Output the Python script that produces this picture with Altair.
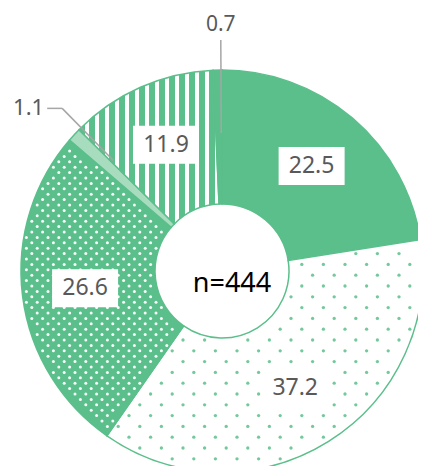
import math
import numpy as np
import pandas as pd
import altair as alt

# ---- data ----
categories = ["s1", "s2", "s3", "s4", "s5", "s6"]
values = [22.5, 37.2, 26.6, 1.1, 11.9, 0.7]
value_labels = ["22.5", "37.2", "26.6", "1.1", "11.9", "0.7"]
center_label = ["n=444"]

# ---- style ----
GREEN = "#5bbf8b"
LIGHT = "#a8dcbf"
TEXT = "#595959"
LEADER = "#a6a6a6"
FONT = "Noto Sans"
W, H = 410, 458
CX, CY = 214, 263
R_OUT, R_IN = 201, 67
R_LAB = 138

total = sum(values)
ends = np.cumsum(values) / total * 100
starts = ends - np.array(values) / total * 100
df = pd.DataFrame({"cat": categories, "value": values, "label": value_labels,
                   "start": starts, "end": ends})
df["mid_deg"] = (df["start"] + df["end"]) / 2 * 3.6

theta_scale = alt.Scale(domain=[0, 100], range=[0, 2 * math.pi])


def arc_layer(i, fill):
    return alt.Chart(df.iloc[[i]]).mark_arc(
        radius=R_OUT, innerRadius=R_IN, fill=fill, stroke=GREEN, strokeWidth=1.5
    ).encode(
        theta=alt.Theta("start:Q", scale=theta_scale),
        theta2="end:Q",
        x=alt.value(CX), y=alt.value(CY),
    )


# vertical stripes for slice 5 via a sharp-stop linear gradient
a1, a2 = df.loc[4, "start"] * 3.6, df.loc[4, "end"] * 3.6
angs = np.radians(np.linspace(a1, a2, 300))
xs = np.concatenate([R_OUT * np.sin(angs), R_IN * np.sin(angs)])
bw = xs.max() - xs.min()
nst = max(1, int(round(bw / 10.2)))
stops = []
for k in range(nst):
    o0, o1, o2 = k / nst, (k + 0.6) / nst, (k + 1) / nst
    stops += [{"offset": o0, "color": GREEN}, {"offset": o1, "color": GREEN},
              {"offset": o1, "color": "white"}, {"offset": o2, "color": "white"}]
stripe_fill = {"gradient": "linear", "x1": 0, "x2": 1, "y1": 0, "y2": 0, "stops": stops}

fills = [GREEN, "white", GREEN, LIGHT, stripe_fill, GREEN]
arcs = [arc_layer(i, f) for i, f in enumerate(fills)]


# dot patterns (lattice clipped to one slice)
def lattice(i, dx, dy, pad=2.5):
    s_deg, e_deg = df.loc[i, "start"] * 3.6, df.loc[i, "end"] * 3.6
    pts = []
    for j, yy in enumerate(np.arange(CY - R_OUT, CY + R_OUT + dy, dy)):
        off = dx / 2 if j % 2 else 0.0
        for xx in np.arange(CX - R_OUT + off, CX + R_OUT + dx, dx):
            r = math.hypot(xx - CX, yy - CY)
            if not (R_IN + pad < r < R_OUT - pad):
                continue
            a = math.degrees(math.atan2(xx - CX, -(yy - CY))) % 360
            m = math.degrees(pad / r)
            if s_deg + m < a < e_deg - m:
                pts.append((xx, yy))
    return pd.DataFrame(pts, columns=["px", "py"])


dots_a = alt.Chart(lattice(1, 21.6, 10.8)).mark_circle(size=11, color=GREEN, opacity=0.85).encode(
    x=alt.X("px:Q", scale=None), y=alt.Y("py:Q", scale=None))
dots_b = alt.Chart(lattice(2, 10.8, 5.4)).mark_circle(size=9, color="white", opacity=0.95).encode(
    x=alt.X("px:Q", scale=None), y=alt.Y("py:Q", scale=None))

# inside labels with white boxes
inside = df[df["value"] >= 5].copy()
inside["lx"] = CX + R_LAB * np.sin(np.radians(inside["mid_deg"]))
inside["ly"] = CY - R_LAB * np.cos(np.radians(inside["mid_deg"]))
inside["x0"], inside["x1"] = inside["lx"] - 33, inside["lx"] + 33
inside["y0"], inside["y1"] = inside["ly"] - 19, inside["ly"] + 19

boxes = alt.Chart(inside).mark_rect(color="white").encode(
    x=alt.X("x0:Q", scale=None), x2="x1:Q",
    y=alt.Y("y0:Q", scale=None), y2="y1:Q")
in_text = alt.Chart(inside).mark_text(font=FONT, fontSize=23, color=TEXT, align="center",
                                       baseline="middle").encode(
    x=alt.X("lx:Q", scale=None), y=alt.Y("ly:Q", scale=None), text="label:N")

# outside labels with leader lines (small slices)
lead_angle = {3: 315.5, 5: 359.7}
rows_seg, rows_txt = [], []
for i, ang in lead_angle.items():
    sa, ca = math.sin(math.radians(ang)), math.cos(math.radians(ang))
    if i == 5:
        r0, r1 = 138, 231
        x0, y0 = CX + r0 * sa, CY - r0 * ca
        x1, y1 = CX + r1 * sa, CY - r1 * ca
        rows_seg.append({"x": x0, "y": y0, "x2": x1, "y2": y1})
        rows_txt.append({"x": CX + 246 * sa, "y": CY - 246 * ca, "t": df.loc[i, "label"], "al": "center"})
    else:
        r0, r1 = 155, 228
        x0, y0 = CX + r0 * sa, CY - r0 * ca
        x1, y1 = CX + r1 * sa, CY - r1 * ca
        rows_seg.append({"x": x0, "y": y0, "x2": x1, "y2": y1})
        rows_seg.append({"x": x1, "y": y1, "x2": x1 - 15, "y2": y1})
        rows_txt.append({"x": x1 - 18, "y": y1, "t": df.loc[i, "label"], "al": "right"})
seg_df = pd.DataFrame(rows_seg)
txt_df = pd.DataFrame(rows_txt)

leaders = alt.Chart(seg_df).mark_rule(color=LEADER, strokeWidth=1.5).encode(
    x=alt.X("x:Q", scale=None), y=alt.Y("y:Q", scale=None), x2="x2:Q", y2="y2:Q")
out_c = alt.Chart(txt_df[txt_df["al"] == "center"]).mark_text(
    font=FONT, fontSize=21, color=TEXT, align="center", baseline="middle").encode(
    x=alt.X("x:Q", scale=None), y=alt.Y("y:Q", scale=None), text="t:N")
out_r = alt.Chart(txt_df[txt_df["al"] == "right"]).mark_text(
    font=FONT, fontSize=22, color=TEXT, align="right", baseline="middle").encode(
    x=alt.X("x:Q", scale=None), y=alt.Y("y:Q", scale=None), text="t:N")

center = alt.Chart(pd.DataFrame({"t": center_label})).mark_text(
    font=FONT, fontSize=27, color="black", align="center", baseline="middle").encode(
    x=alt.value(CX + 10), y=alt.value(CY + 13), text="t:N")

chart = alt.layer(*arcs, dots_a, dots_b, leaders, boxes, in_text, out_c, out_r, center).properties(
    width=W, height=H, padding=0, autosize="none"
).configure_view(stroke=None)

chart.save("out.html", embed_options={"renderer": "svg", "actions": False})
